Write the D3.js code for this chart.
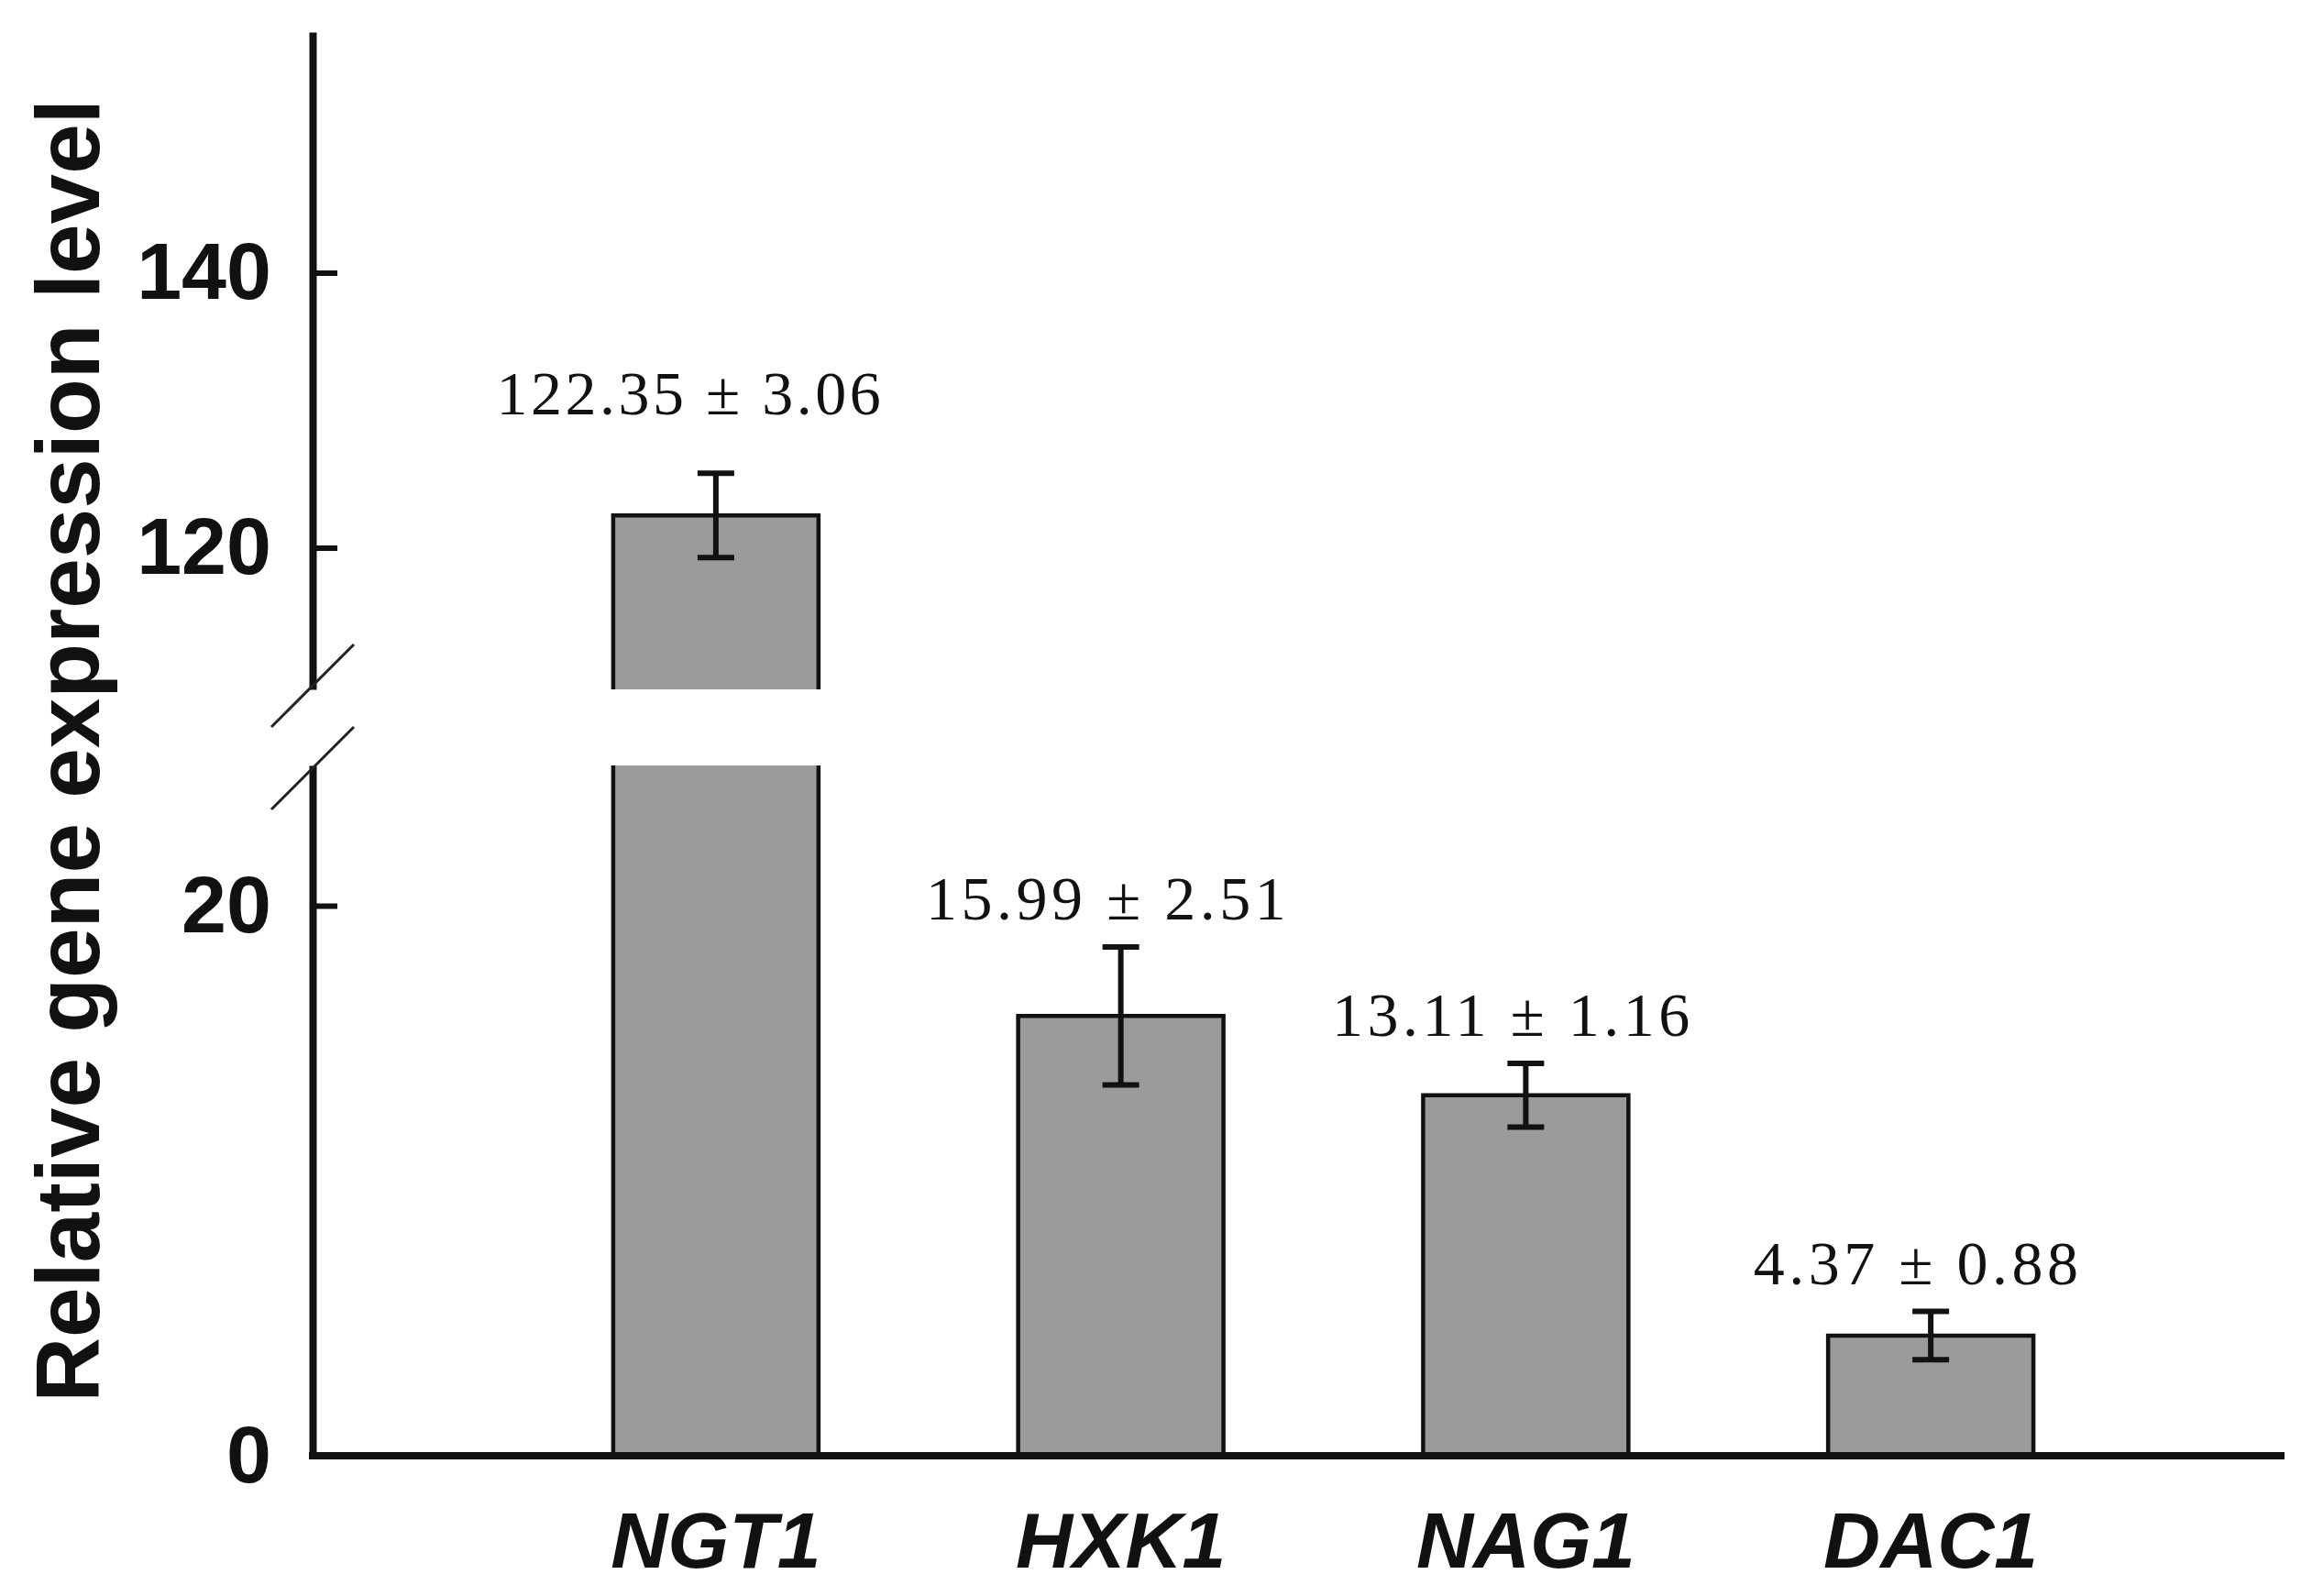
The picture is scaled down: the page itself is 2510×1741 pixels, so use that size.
<!DOCTYPE html>
<html>
<head>
<meta charset="utf-8">
<script src="https://cdn.jsdelivr.net/npm/d3@7"></script>
<style>
  html, body { margin: 0; padding: 0; background: #fff; }
  svg { display: block; }
</style>
</head>
<body>
<div id="chart"></div>
<script>
// Gene names on the x axis
const genes = ['NGT1', 'HXK1', 'NAG1', 'DAC1'];
// Mean relative expression and its error
const means = [122.35, 15.99, 13.11, 4.37];
const errors = [3.06, 2.51, 1.16, 0.88];
// Tick values for the two parts of the broken y axis
const upperTicks = [120, 140];
const lowerTicks = [0, 20];

const width = 2510;
const height = 1741;
const axisX = 341;
const baseY = 1588;

const svg = d3.select('#chart')
  .append('svg')
  .attr('width', width)
  .attr('height', height);

svg.append('rect')
  .attr('width', width)
  .attr('height', height)
  .attr('fill', '#fff');

// Lower part of the axis shows 0-25, upper part 110-157.5
const yLow = d3.scaleLinear().domain([0, 25.1]).range([baseY, 835]);
const yUp = d3.scaleLinear().domain([109.7, 157.5]).range([752, 35]);
const lowMax = yLow.domain()[1];

const x = d3.scaleBand()
  .domain(genes)
  .range([560, 2327])
  .paddingInner(0.493)
  .paddingOuter(0.2465);

const yOf = v => (v > lowMax ? yUp(v) : yLow(v));

const records = genes.map((g, i) => ({ gene: g, mean: means[i], err: errors[i] }));

// Bars: one piece for small values, two pieces around the break for big ones
const bars = svg.append('g');
records.forEach(d => {
  const x0 = x(d.gene);
  const w = x.bandwidth();
  const pieces = d.mean > lowMax
    ? [{ top: yUp(d.mean), bottom: yUp.range()[0], cap: true },
       { top: yLow.range()[1], bottom: baseY, cap: false }]
    : [{ top: yLow(d.mean), bottom: baseY, cap: true }];
  pieces.forEach(p => {
    bars.append('rect')
      .attr('x', x0)
      .attr('y', p.top)
      .attr('width', w)
      .attr('height', p.bottom - p.top)
      .attr('fill', '#9a9c9b');
    const path = p.cap
      ? `M${x0},${p.bottom}V${p.top}H${x0 + w}V${p.bottom}`
      : `M${x0},${p.top}V${p.bottom}M${x0 + w},${p.top}V${p.bottom}`;
    bars.append('path')
      .attr('d', path)
      .attr('fill', 'none')
      .attr('stroke', '#111')
      .attr('stroke-width', 4.5);
  });
});

// Error bars
const capHalf = 20;
const err = svg.append('g')
  .attr('stroke', '#111')
  .attr('stroke-width', 6)
  .attr('fill', 'none');
records.forEach(d => {
  const cx = x(d.gene) + x.bandwidth() / 2;
  const yHi = yOf(d.mean + d.err);
  const yLo = yOf(d.mean - d.err);
  err.append('path')
    .attr('d', `M${cx},${yHi}V${yLo}M${cx - capHalf},${yHi}H${cx + capHalf}M${cx - capHalf},${yLo}H${cx + capHalf}`);
});

// Value labels above the error bars
svg.append('g')
  .selectAll('text')
  .data(records)
  .enter()
  .append('text')
  .attr('x', d => x(d.gene) + x.bandwidth() / 2 - (d.mean > lowMax ? 28 : 14))
  .attr('y', d => yOf(d.mean + d.err) - (d.mean > lowMax ? 64 : 30))
  .attr('text-anchor', 'middle')
  .attr('font-family', '"Liberation Serif", "Times New Roman", serif')
  .attr('font-size', 68)
  .attr('letter-spacing', d => (d.mean > lowMax ? 3.5 : 4.5))
  .attr('fill', '#111')
  .text(d => `${d.mean.toFixed(2)} ± ${d.err.toFixed(2)}`);

// Y axes (two segments), ticks pointing inward
const styleAxis = g => {
  g.select('.domain').attr('stroke', '#111').attr('stroke-width', 8);
  g.selectAll('.tick line').attr('stroke', '#111').attr('stroke-width', 6);
  g.selectAll('.tick text')
    .attr('fill', '#111')
    .attr('font-family', '"Liberation Sans", Arial, sans-serif')
    .attr('font-weight', 'bold')
    .attr('font-size', 88);
};

svg.append('g')
  .attr('transform', `translate(${axisX},0)`)
  .call(d3.axisLeft(yUp).tickValues(upperTicks).tickSize(-27).tickSizeOuter(0).tickPadding(45))
  .call(styleAxis);

svg.append('g')
  .attr('transform', `translate(${axisX},0)`)
  .call(d3.axisLeft(yLow).tickValues(lowerTicks).tickSize(-27).tickSizeOuter(0).tickPadding(45))
  .call(styleAxis)
  .selectAll('.tick')
  .filter(v => v === 0)
  .select('line')
  .remove();

// Break marks on the y axis
const breaks = [yUp.range()[0] - 4, yLow.range()[1] + 3];
svg.append('g')
  .selectAll('line')
  .data(breaks)
  .enter()
  .append('line')
  .attr('x1', axisX - 45)
  .attr('y1', d => d + 45)
  .attr('x2', axisX + 45)
  .attr('y2', d => d - 45)
  .attr('stroke', '#222')
  .attr('stroke-width', 3);

// X axis line
svg.append('line')
  .attr('x1', axisX - 4)
  .attr('x2', 2492)
  .attr('y1', baseY)
  .attr('y2', baseY)
  .attr('stroke', '#111')
  .attr('stroke-width', 8);

// Gene labels
svg.append('g')
  .selectAll('text')
  .data(genes)
  .enter()
  .append('text')
  .attr('x', d => x(d) + x.bandwidth() / 2)
  .attr('y', 1710)
  .attr('text-anchor', 'middle')
  .attr('font-family', '"Liberation Sans", Arial, sans-serif')
  .attr('font-weight', 'bold')
  .attr('font-style', 'italic')
  .attr('font-size', 86)
  .attr('fill', '#111')
  .text(d => d);

// Y axis title
svg.append('text')
  .attr('transform', 'translate(108,819) rotate(-90)')
  .attr('text-anchor', 'middle')
  .attr('font-family', '"Liberation Sans", Arial, sans-serif')
  .attr('font-weight', 'bold')
  .attr('font-size', 98)
  .attr('fill', '#111')
  .text('Relative gene expression level');
</script>
</body>
</html>
